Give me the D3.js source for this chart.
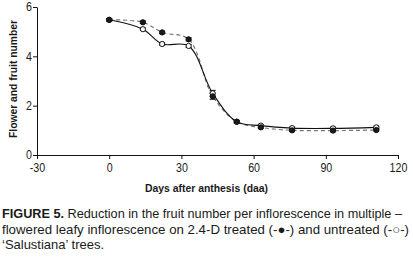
<!DOCTYPE html>
<html><head><meta charset="utf-8">
<script src="https://cdn.jsdelivr.net/npm/d3@7"></script>
<style>
body{margin:0;background:#fff;}
svg{display:block;}
text{font-family:"Liberation Sans","Arial",sans-serif;fill:#1a1a1a;}
</style></head><body>
<script>
const days = [0, 14, 22, 33, 43, 53, 63, 76, 93, 111];
const treated = [5.48, 5.38, 4.97, 4.69, 2.38, 1.35, 1.12, 1.0, 0.99, 1.01];
const treatedErr = [0.05, 0.05, 0.05, 0.06, 0.12, 0.05, 0.05, 0.05, 0.05, 0.04];
const untreated = [5.48, 5.1, 4.5, 4.42, 2.5, 1.35, 1.19, 1.09, 1.08, 1.12];
const untreatedErr = [0.05, 0.05, 0.05, 0.06, 0.12, 0.05, 0.05, 0.05, 0.05, 0.05];
const xTicks = [-30, 0, 30, 60, 90, 120];
const yTicks = [0, 2, 4, 6];
const yTitle = "Flower and fruit number";
const xTitle = "Days after anthesis (daa)";

const W = 413, H = 261;
const svg = d3.select("body").append("svg").attr("width", W).attr("height", H);
const x = d3.scaleLinear().domain([-30, 120]).range([37, 398]);
const y = d3.scaleLinear().domain([0, 6]).range([155, 7]);

const xa = svg.append("g").attr("transform", "translate(0,155)")
  .call(d3.axisBottom(x).tickValues(xTicks).tickSize(4).tickSizeOuter(0).tickFormat(d => String(d)));
const ya = svg.append("g").attr("transform", "translate(37,0)")
  .call(d3.axisLeft(y).tickValues(yTicks).tickSize(4).tickSizeOuter(0).tickFormat(d => String(d)));
[xa, ya].forEach(g => {
  g.select(".domain").attr("stroke", "#111").attr("stroke-width", 1);
  g.selectAll(".tick line").attr("stroke", "#111");
  g.selectAll(".tick text").attr("font-size", 13).attr("fill", "#1a1a1a")
    .style("font-family", '"Liberation Sans",Arial,sans-serif');
});
xa.selectAll(".tick text").attr("y", 7).attr("dy", "0.8em");
ya.selectAll(".tick text").attr("x", -5).attr("dy", "0.3em");
// narrow the tick labels like a condensed face
svg.selectAll(".tick text").each(function () {
  const w = this.getComputedTextLength();
  d3.select(this).attr("textLength", w * 0.82).attr("lengthAdjust", "spacingAndGlyphs");
});

svg.append("text").attr("transform", "translate(17,79) rotate(-90)")
  .attr("text-anchor", "middle").attr("font-size", 11).attr("font-weight", "bold")
  .attr("textLength", 118).attr("lengthAdjust", "spacingAndGlyphs").text(yTitle);
svg.append("text").attr("x", 145).attr("y", 192)
  .attr("font-size", 11).attr("font-weight", "bold")
  .attr("textLength", 123).attr("lengthAdjust", "spacingAndGlyphs").text(xTitle);

const line = d3.line().x(d => x(d[0])).y(d => y(d[1])).curve(d3.curveCatmullRom.alpha(0.5));
const tData = days.map((d, i) => [d, treated[i], treatedErr[i]]);
const uData = days.map((d, i) => [d, untreated[i], untreatedErr[i]]);

svg.append("path").datum(tData).attr("d", line).attr("fill", "none")
  .attr("stroke", "#777").attr("stroke-width", 1.2).attr("stroke-dasharray", "4,3");
svg.append("path").datum(uData).attr("d", line).attr("fill", "none")
  .attr("stroke", "#111").attr("stroke-width", 1.1);

function errBars(data) {
  const g = svg.append("g").attr("stroke", "#111").attr("stroke-width", 1);
  g.selectAll("line.v").data(data).join("line")
    .attr("x1", d => x(d[0])).attr("x2", d => x(d[0]))
    .attr("y1", d => y(d[1] - d[2])).attr("y2", d => y(d[1] + d[2]));
  g.selectAll("line.t").data(data).join("line")
    .attr("x1", d => x(d[0]) - 3).attr("x2", d => x(d[0]) + 3)
    .attr("y1", d => y(d[1] + d[2])).attr("y2", d => y(d[1] + d[2]));
  g.selectAll("line.b").data(data).join("line")
    .attr("x1", d => x(d[0]) - 3).attr("x2", d => x(d[0]) + 3)
    .attr("y1", d => y(d[1] - d[2])).attr("y2", d => y(d[1] - d[2]));
}
errBars(uData);
errBars(tData);

svg.append("g").selectAll("circle").data(uData).join("circle")
  .attr("cx", d => x(d[0])).attr("cy", d => y(d[1])).attr("r", 2.6)
  .attr("fill", "#fff").attr("stroke", "#111").attr("stroke-width", 1);
svg.append("g").selectAll("circle").data(tData).join("circle")
  .attr("cx", d => x(d[0])).attr("cy", d => y(d[1])).attr("r", 2.6)
  .attr("fill", "#1a1a1a").attr("stroke", "#111").attr("stroke-width", 1);

const cap = svg.append("g").attr("font-size", 13);
const l1 = cap.append("text").attr("x", 2).attr("y", 218)
  .attr("textLength", 400).attr("lengthAdjust", "spacingAndGlyphs");
l1.append("tspan").attr("font-weight", "bold").text("FIGURE 5.");
l1.append("tspan").text(" Reduction in the fruit number per inflorescence in multiple \u2013");
cap.append("text").attr("x", 2).attr("y", 233.5)
  .attr("textLength", 407).attr("lengthAdjust", "spacingAndGlyphs")
  .text("flowered leafy inflorescence on 2.4-D treated (-\u25CF-) and untreated (-\u25CB-)");
cap.append("text").attr("x", 2).attr("y", 249)
  .attr("textLength", 102).attr("lengthAdjust", "spacingAndGlyphs")
  .text("\u2018Salustiana\u2019 trees.");
</script>
</body></html>
